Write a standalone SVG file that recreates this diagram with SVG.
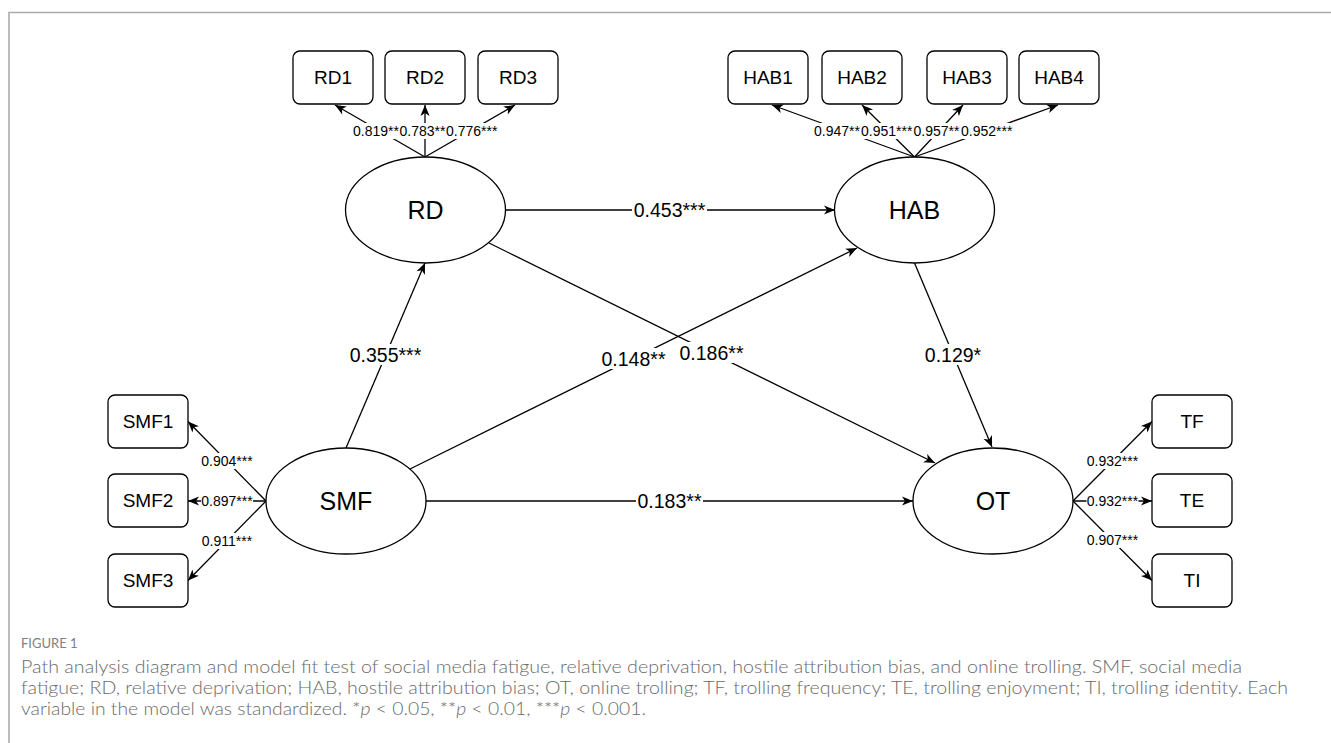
<svg xmlns="http://www.w3.org/2000/svg" width="1331" height="743" viewBox="0 0 1331 743">
<style>
.frame{stroke:#ababab;stroke-width:1.6;fill:none}
.node{fill:#fff;stroke:#000;stroke-width:1.3}
.nt{font-family:"Liberation Sans",Arial,sans-serif;font-size:25px;fill:#000;text-anchor:middle}
.bt{font-family:"Liberation Sans",Arial,sans-serif;font-size:19px;fill:#000;text-anchor:middle}
.edge{stroke:#000;stroke-width:1.3;fill:none;marker-end:url(#arr)}
.el{font-family:"Liberation Sans",Arial,sans-serif;font-size:19.5px;fill:#000;text-anchor:middle}
.il{font-family:"Liberation Sans",Arial,sans-serif;font-size:14px;fill:#000;text-anchor:middle}
.bg{fill:#fff}
.cap{font-family:Lato,"Open Sans",sans-serif;fill:#6a6a6a;font-size:17px;font-weight:300}
.fig{font-family:Lato,"Open Sans",sans-serif;fill:#808080;font-size:13px}
</style>
<defs>
<marker id="arr" viewBox="-12 -6 13 12" refX="0" refY="0" markerWidth="13" markerHeight="12" markerUnits="userSpaceOnUse" orient="auto">
<path d="M0,0 L-11,-4.6 L-8,0 L-11,4.6 Z" fill="#000"/>
</marker>
</defs>
<rect width="1331" height="743" fill="#fff"/>
<path class="frame" d="M9,743 V12.5 H1331"/>

<g id="connectors">
<!-- RD indicators -->
<line class="edge" x1="425" y1="157" x2="335" y2="105"/>
<line class="edge" x1="425" y1="157" x2="425" y2="105"/>
<line class="edge" x1="425" y1="157" x2="515" y2="105"/>
<!-- HAB indicators -->
<line class="edge" x1="914.5" y1="157" x2="772" y2="105"/>
<line class="edge" x1="914.5" y1="157" x2="862" y2="105"/>
<line class="edge" x1="914.5" y1="157" x2="963" y2="105"/>
<line class="edge" x1="914.5" y1="157" x2="1058" y2="105"/>
<!-- SMF indicators -->
<line class="edge" x1="266" y1="501" x2="188" y2="421.5"/>
<line class="edge" x1="266" y1="501" x2="188" y2="501"/>
<line class="edge" x1="266" y1="501" x2="188" y2="580.5"/>
<!-- OT indicators -->
<line class="edge" x1="1073" y1="501" x2="1152" y2="421.5"/>
<line class="edge" x1="1073" y1="501" x2="1152" y2="501"/>
<line class="edge" x1="1073" y1="501" x2="1152" y2="580.5"/>
<!-- structural paths -->
<line class="edge" x1="505" y1="210" x2="835" y2="210"/>
<line class="edge" x1="346" y1="448" x2="425" y2="263"/>
<line class="edge" x1="410" y1="469" x2="857" y2="248"/>
<line class="edge" x1="489" y1="243" x2="935" y2="463"/>
<line class="edge" x1="914.5" y1="263" x2="992" y2="447"/>
<line class="edge" x1="426" y1="501" x2="913" y2="501"/>

<!-- labels -->
<rect class="bg" x="353" y="123" width="146" height="16"/>
<text class="il" x="376" y="135.5">0.819**</text>
<text class="il" x="422.5" y="135.5">0.783**</text>
<text class="il" x="471.7" y="135.5">0.776***</text>

<rect class="bg" x="814" y="123" width="199" height="16"/>
<text class="il" x="837" y="135.5">0.947**</text>
<text class="il" x="886.7" y="135.5">0.951***</text>
<text class="il" x="936.5" y="135.5">0.957**</text>
<text class="il" x="986.7" y="135.5">0.952***</text>

<rect class="bg" x="201" y="453" width="52" height="16"/><text class="il" x="227" y="465.5">0.904***</text>
<rect class="bg" x="201" y="493" width="52" height="16"/><text class="il" x="227" y="505.5">0.897***</text>
<rect class="bg" x="201" y="533" width="52" height="16"/><text class="il" x="227" y="545.5">0.911***</text>

<rect class="bg" x="1086.5" y="453" width="52" height="16"/><text class="il" x="1112.5" y="465.5">0.932***</text>
<rect class="bg" x="1086.5" y="493" width="52" height="16"/><text class="il" x="1112.5" y="505.5">0.932***</text>
<rect class="bg" x="1086.5" y="532" width="52" height="16"/><text class="il" x="1112.5" y="544.5">0.907***</text>

<rect class="bg" x="632" y="200" width="75" height="20"/><text class="el" x="669.5" y="217">0.453***</text>
<rect class="bg" x="348" y="344" width="75" height="21"/><text class="el" x="385.5" y="361.5">0.355***</text>
<rect class="bg" x="600" y="348" width="67" height="21"/><text class="el" x="633.5" y="365.5">0.148**</text>
<rect class="bg" x="678" y="342" width="67" height="21"/><text class="el" x="711.5" y="359.5">0.186**</text>
<rect class="bg" x="924" y="344" width="59" height="21"/><text class="el" x="953" y="361.5">0.129*</text>
<rect class="bg" x="636" y="491" width="67" height="20"/><text class="el" x="669.5" y="508">0.183**</text>
</g>

<g id="node-RD"><ellipse class="node" cx="425.5" cy="210" rx="80" ry="53"/><text class="nt" x="425.5" y="219">RD</text></g>
<g id="node-HAB"><ellipse class="node" cx="914.5" cy="210" rx="80" ry="53"/><text class="nt" x="914.5" y="219">HAB</text></g>
<g id="node-SMF"><ellipse class="node" cx="346" cy="501" rx="80" ry="53"/><text class="nt" x="346" y="510">SMF</text></g>
<g id="node-OT"><ellipse class="node" cx="993" cy="501" rx="80" ry="53"/><text class="nt" x="993" y="510">OT</text></g>

<g id="node-RD1"><rect class="node" x="293" y="51" width="80" height="53" rx="7"/><text class="bt" x="333" y="84">RD1</text></g>
<g id="node-RD2"><rect class="node" x="385" y="51" width="80" height="53" rx="7"/><text class="bt" x="425" y="84">RD2</text></g>
<g id="node-RD3"><rect class="node" x="478" y="51" width="80" height="53" rx="7"/><text class="bt" x="518" y="84">RD3</text></g>

<g id="node-HAB1"><rect class="node" x="728" y="51" width="80" height="53" rx="7"/><text class="bt" x="768" y="84">HAB1</text></g>
<g id="node-HAB2"><rect class="node" x="822" y="51" width="80" height="53" rx="7"/><text class="bt" x="862" y="84">HAB2</text></g>
<g id="node-HAB3"><rect class="node" x="927" y="51" width="80" height="53" rx="7"/><text class="bt" x="967" y="84">HAB3</text></g>
<g id="node-HAB4"><rect class="node" x="1019" y="51" width="80" height="53" rx="7"/><text class="bt" x="1059" y="84">HAB4</text></g>

<g id="node-SMF1"><rect class="node" x="108" y="395" width="80" height="53" rx="7"/><text class="bt" x="148" y="428">SMF1</text></g>
<g id="node-SMF2"><rect class="node" x="108" y="474" width="80" height="53" rx="7"/><text class="bt" x="148" y="507">SMF2</text></g>
<g id="node-SMF3"><rect class="node" x="108" y="554" width="80" height="53" rx="7"/><text class="bt" x="148" y="587">SMF3</text></g>

<g id="node-TF"><rect class="node" x="1152" y="395" width="80" height="53" rx="7"/><text class="bt" x="1192" y="428">TF</text></g>
<g id="node-TE"><rect class="node" x="1152" y="474" width="80" height="53" rx="7"/><text class="bt" x="1192" y="507">TE</text></g>
<g id="node-TI"><rect class="node" x="1152" y="554" width="80" height="53" rx="7"/><text class="bt" x="1192" y="587">TI</text></g>

<g id="caption">
<text class="fig" x="21" y="648">FIGURE 1</text>
<text class="cap" x="21" y="673" textLength="1221" lengthAdjust="spacingAndGlyphs">Path analysis diagram and model fit test of social media fatigue, relative deprivation, hostile attribution bias, and online trolling. SMF, social media</text>
<text class="cap" x="21" y="694" textLength="1267" lengthAdjust="spacingAndGlyphs">fatigue; RD, relative deprivation; HAB, hostile attribution bias; OT, online trolling; TF, trolling frequency; TE, trolling enjoyment; TI, trolling identity. Each</text>
<text class="cap" x="21" y="715" textLength="625" lengthAdjust="spacingAndGlyphs">variable in the model was standardized. *<tspan font-style="italic">p</tspan> &lt; 0.05, **<tspan font-style="italic">p</tspan> &lt; 0.01, ***<tspan font-style="italic">p</tspan> &lt; 0.001.</text>
</g>
</svg>
